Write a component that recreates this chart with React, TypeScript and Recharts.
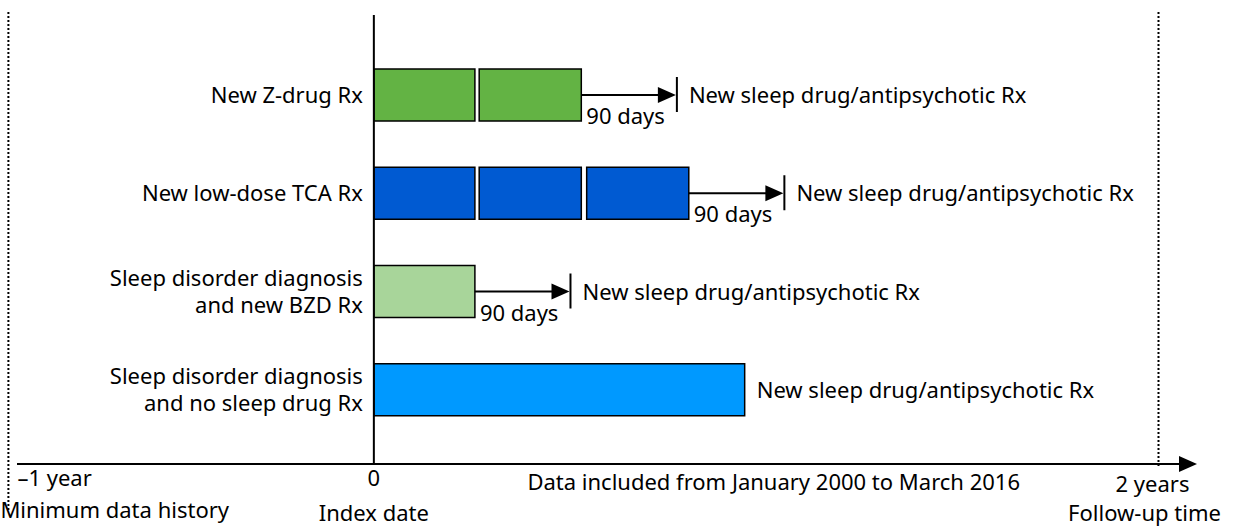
import { BarChart, Bar, XAxis, YAxis, ReferenceLine, LabelList, Cell } from "recharts";

const FONT = "'Noto Sans', 'Open Sans', sans-serif";

// Cohorts (top to bottom) and the length of each segment, in days
const cohorts = [
  "New Z-drug Rx",
  "New low-dose TCA Rx",
  "Sleep disorder diagnosis\nand new BZD Rx",
  "Sleep disorder diagnosis\nand no sleep drug Rx",
];
const firstRx = [94, 94, 94, 345];
const gapA = [4, 4, 0, 0];
const secondRx = [95, 95, 0, 0];
const gapB = [0, 5, 0, 0];
const thirdRx = [0, 95, 0, 0];
const washout = [88, 88, 88, 0];
const washoutLabel = "90 days";
const outcomeLabel = "New sleep drug/antipsychotic Rx";
const boxColors = ["#63b344", "#005ad2", "#a8d59a", "#0099ff"];

// Timeline axis
const axisTicks = [-340, 0, 372, 730];
const axisLabels = ["–1 year", "0", "Data included from January 2000 to March 2016", "2 years"];
const axisSubLabels = ["Minimum data history", "Index date", "", "Follow-up time"];
const historyStart = -340;
const followUpEnd = 730;
const axisMin = -332;
const axisMax = 750;

const chartData = cohorts.map((name, i) => ({
  name,
  firstRx: firstRx[i],
  gapA: gapA[i],
  secondRx: secondRx[i],
  gapB: gapB[i],
  thirdRx: thirdRx[i],
  washout: washout[i],
}));

const textStyle = { fontFamily: FONT, fontSize: 22, fill: "#000" };

function AxisTick(props: any) {
  const { x, y, payload } = props;
  const i = axisTicks.indexOf(payload.value);
  const main = axisLabels[i];
  const sub = axisSubLabels[i];
  let mainX = x;
  let subX = x;
  let mainAnchor = "middle";
  let subAnchor = "middle";
  let mainY = y + 14;
  let subY = y + 49;
  if (i === 0) {
    mainX = x + 9;
    subX = x - 8;
    mainAnchor = "start";
    subAnchor = "start";
    subY = y + 46;
  } else if (i === 2) {
    mainY = y + 18;
  } else if (i === 3) {
    mainX = x - 6;
    subX = x - 14;
    mainY = y + 20;
  }
  return (
    <g>
      <text x={mainX} y={mainY} textAnchor={mainAnchor} {...textStyle}>
        {main}
      </text>
      {sub && (
        <text x={subX} y={subY} textAnchor={subAnchor} {...textStyle}>
          {sub}
        </text>
      )}
    </g>
  );
}

function CohortLabel(props: any) {
  const { x, y, height, value } = props;
  const lines = String(value).split("\n");
  const cy = y + height / 2;
  const lh = 27;
  return (
    <g>
      {lines.map((line, k) => (
        <text
          key={k}
          x={x - 11}
          y={cy + 8 + (k - (lines.length - 1) / 2) * lh}
          textAnchor="end"
          {...textStyle}
        >
          {line}
        </text>
      ))}
    </g>
  );
}

function WashoutArrow(props: any) {
  const { x, y, width, height } = props;
  const cy = y + height / 2;
  const end = x + width;
  return (
    <g>
      {width > 0 && (
        <g>
          <line x1={x} y1={cy} x2={end - 16} y2={cy} stroke="#000" strokeWidth={2} />
          <polygon points={`${end - 18},${cy - 8} ${end},${cy} ${end - 18},${cy + 8}`} fill="#000" />
          <line x1={end + 1} y1={cy - 18} x2={end + 1} y2={cy + 17} stroke="#000" strokeWidth={2} />
          <text x={x + 5} y={cy + 29} {...textStyle}>
            {washoutLabel}
          </text>
        </g>
      )}
      <text x={end + (width > 0 ? 13 : 12)} y={cy + 8} {...textStyle}>
        {outcomeLabel}
      </text>
    </g>
  );
}

const boxProps = { stackId: "rx", stroke: "#000", strokeWidth: 1.5, isAnimationActive: false };

const top = (p: any) => Math.min(p.y1, p.y2);
const bottom = (p: any) => Math.max(p.y1, p.y2);

export default function App() {
  return (
    <div style={{ position: "absolute", left: 0, top: 0, width: 1233, height: 529, background: "#fff" }}>
      <BarChart
        width={1233}
        height={529}
        data={chartData}
        layout="vertical"
        barSize={52}
        margin={{ top: 15, right: 53, bottom: 0, left: 17 }}
      >
        <XAxis
          type="number"
          domain={[axisMin, axisMax]}
          allowDataOverflow
          ticks={axisTicks}
          interval={0}
          tickLine={false}
          axisLine={{ stroke: "#000", strokeWidth: 2 }}
          height={65}
          tick={<AxisTick />}
        />
        <YAxis type="category" dataKey="name" hide padding={{ top: 31, bottom: 25 }} />
        <ReferenceLine
          x={historyStart}
          ifOverflow="visible"
          shape={(p: any) => (
            <line x1={p.x1} y1={top(p) - 3} x2={p.x2} y2={bottom(p) + 46} stroke="#000" strokeWidth={2} strokeDasharray="2 2" />
          )}
        />
        <ReferenceLine
          x={followUpEnd}
          shape={(p: any) => (
            <line x1={p.x1} y1={top(p) - 3} x2={p.x2} y2={bottom(p) + 2} stroke="#000" strokeWidth={2} strokeDasharray="2 2" />
          )}
        />
        <ReferenceLine
          x={axisMax}
          ifOverflow="visible"
          shape={(p: any) => (
            <polygon
              points={`${p.x1 - 1},${bottom(p) - 8} ${p.x1 + 17},${bottom(p)} ${p.x1 - 1},${bottom(p) + 8}`}
              fill="#000"
            />
          )}
        />
        <ReferenceLine x={0} stroke="#000" strokeWidth={2} />
        <Bar dataKey="firstRx" {...boxProps}>
          {chartData.map((_, i) => (
            <Cell key={`a-${i}`} fill={boxColors[i]} />
          ))}
          <LabelList dataKey="name" content={<CohortLabel />} />
        </Bar>
        <Bar dataKey="gapA" stackId="rx" fill="transparent" isAnimationActive={false} />
        <Bar dataKey="secondRx" {...boxProps}>
          {chartData.map((_, i) => (
            <Cell key={`b-${i}`} fill={boxColors[i]} />
          ))}
        </Bar>
        <Bar dataKey="gapB" stackId="rx" fill="transparent" isAnimationActive={false} />
        <Bar dataKey="thirdRx" {...boxProps}>
          {chartData.map((_, i) => (
            <Cell key={`c-${i}`} fill={boxColors[i]} />
          ))}
        </Bar>
        <Bar dataKey="washout" stackId="rx" isAnimationActive={false} shape={<WashoutArrow />} />
      </BarChart>
    </div>
  );
}
